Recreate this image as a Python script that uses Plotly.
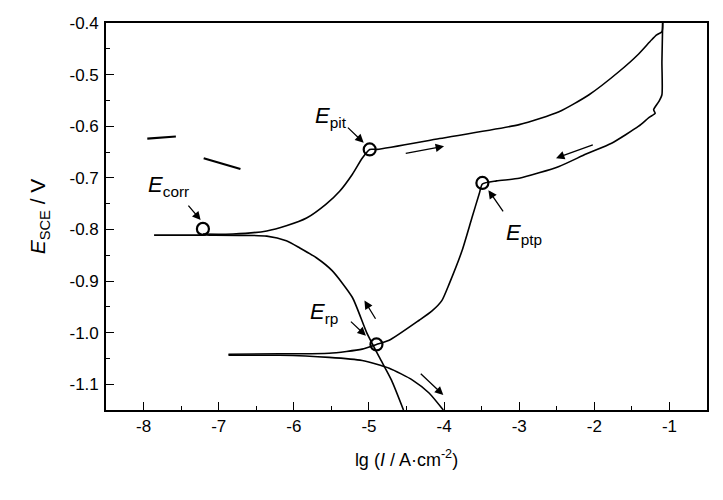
import plotly.graph_objects as go

# ---- data (lg I in A/cm^2, E in V vs SCE) ----
cath_x = [-7.86, -7.21, -7.12, -6.36, -6.10, -5.92, -5.70, -5.49, -5.22, -5.03, -4.86, -4.70, -4.54]
cath_E = [-0.811, -0.811, -0.811, -0.813, -0.822, -0.836, -0.855, -0.880, -0.932, -1.000, -1.048, -1.092, -1.150]

anod_x = [-7.21, -6.81, -6.36, -6.10, -5.83, -5.57, -5.39, -5.22, -5.09, -4.99, -4.89, -4.06, -3.00,
          -2.47, -2.07, -1.67, -1.41, -1.24, -1.17, -1.10, -1.09]
anod_E = [-0.809, -0.809, -0.803, -0.793, -0.778, -0.751, -0.726, -0.693, -0.662, -0.645, -0.645, -0.624,
          -0.597, -0.572, -0.539, -0.494, -0.460, -0.433, -0.423, -0.417, -0.400]

rev_x = [-1.09, -1.10, -1.10, -1.14, -1.21, -1.19, -1.27, -1.41, -1.77, -2.11, -2.47, -3.00, -3.30,
         -3.49, -3.53, -3.63, -3.76, -3.93, -4.03, -4.16, -4.33, -4.73, -4.90, -5.09, -5.53, -6.19, -6.87]
rev_E = [-0.400, -0.475, -0.539, -0.552, -0.568, -0.575, -0.583, -0.600, -0.633, -0.654, -0.678, -0.701,
         -0.706, -0.712, -0.730, -0.778, -0.841, -0.905, -0.938, -0.958, -0.976, -1.015, -1.023, -1.032,
         -1.040, -1.041, -1.042]

low2_x = [-6.87, -6.19, -5.53, -5.09, -4.73, -4.42, -4.20, -4.01]
low2_E = [-1.044, -1.044, -1.048, -1.054, -1.069, -1.092, -1.117, -1.150]

frag1_x = [-7.95, -7.57]
frag1_E = [-0.624, -0.620]
frag2_x = [-7.20, -6.71]
frag2_E = [-0.662, -0.683]

pt_names = ["corr", "pit", "ptp", "rp"]
pt_x = [-7.21, -4.99, -3.49, -4.90]
pt_E = [-0.799, -0.645, -0.710, -1.023]

x_ticks = [-8, -7, -6, -5, -4, -3, -2, -1]
y_ticks = [-1.1, -1.0, -0.9, -0.8, -0.7, -0.6, -0.5, -0.4]
y_labels = ["-1.1", "-1.0", "-0.9", "-0.8", "-0.7", "-0.6", "-0.5", "-0.4"]

FONT = "Liberation Sans, Arial, sans-serif"

fig = go.Figure()
for xs, ys in [(cath_x, cath_E), (anod_x, anod_E), (rev_x, rev_E), (low2_x, low2_E)]:
    fig.add_trace(go.Scatter(x=xs, y=ys, mode="lines", line=dict(color="black", width=1.6, shape="spline", smoothing=0.6),
                             hoverinfo="skip", showlegend=False))
for xs, ys in [(frag1_x, frag1_E), (frag2_x, frag2_E)]:
    fig.add_trace(go.Scatter(x=xs, y=ys, mode="lines", line=dict(color="black", width=2.2),
                             hoverinfo="skip", showlegend=False))
fig.add_trace(go.Scatter(x=pt_x, y=pt_E, mode="markers",
                         marker=dict(symbol="circle-open", size=12, color="black", line=dict(width=2.2)),
                         hoverinfo="skip", showlegend=False))

# labels
labels = [("corr", -7.67, -0.716), ("pit", -5.50, -0.583), ("ptp", -2.93, -0.808), ("rp", -5.60, -0.962)]
for sub, lx, ly in labels:
    fig.add_annotation(x=lx, y=ly, xref="x", yref="y", showarrow=False,
                       text=f"<i>E</i><sub>{sub}</sub>", font=dict(family=FONT, size=22, color="black"))

# pointer arrows (tail -> head)
pointer_arrows = [(-7.42, -0.751, -7.24, -0.782), (-5.30, -0.600, -5.07, -0.632),
                  (-3.20, -0.768, -3.41, -0.724), (-5.26, -0.976, -5.04, -1.006)]
# scan direction arrows
scan_arrows = [(-4.53, -0.653, -4.00, -0.639), (-2.00, -0.635, -2.51, -0.662),
               (-4.90, -0.976, -5.06, -0.938), (-4.33, -1.077, -4.01, -1.121)]
for tx, ty, hx, hy in pointer_arrows + scan_arrows:
    fig.add_annotation(x=hx, y=hy, ax=tx, ay=ty, xref="x", yref="y", axref="x", ayref="y",
                       text="", showarrow=True, arrowhead=2, arrowsize=1.3, arrowwidth=1.3, arrowcolor="black")

axis_common = dict(showline=True, linecolor="black", linewidth=1.6, mirror=True, ticks="inside",
                   ticklen=8, tickwidth=1.3, tickcolor="black", showgrid=False, zeroline=False,
                   tickfont=dict(family=FONT, size=17, color="black"),
                   minor=dict(ticks="inside", ticklen=4, tickwidth=1.1, tickcolor="black"))

fig.update_xaxes(range=[-8.5, -0.5], tickvals=x_ticks, ticktext=[str(v) for v in x_ticks],
                 minor_dtick=0.5, minor_tick0=-8.5,
                 title=dict(text="lg (<i>I</i> / A·cm<sup>-2</sup>)", font=dict(family=FONT, size=18, color="black"), standoff=18),
                 **axis_common)
fig.update_yaxes(range=[-1.15, -0.4], tickvals=y_ticks, ticktext=y_labels,
                 minor_dtick=0.05, minor_tick0=-1.15,
                 title=dict(text="<i>E</i><sub>SCE</sub> / V", font=dict(family=FONT, size=21, color="black"), standoff=18),
                 ticklabelstandoff=2,
                 **axis_common)

# page body has an 8px margin: figure is offset by 8px, so size/margins are compensated
fig.update_layout(width=707, height=484, margin=dict(l=98, r=6, t=13, b=82),
                  paper_bgcolor="white", plot_bgcolor="white", font=dict(family=FONT, color="black"))

fig.write_html("out.html")
